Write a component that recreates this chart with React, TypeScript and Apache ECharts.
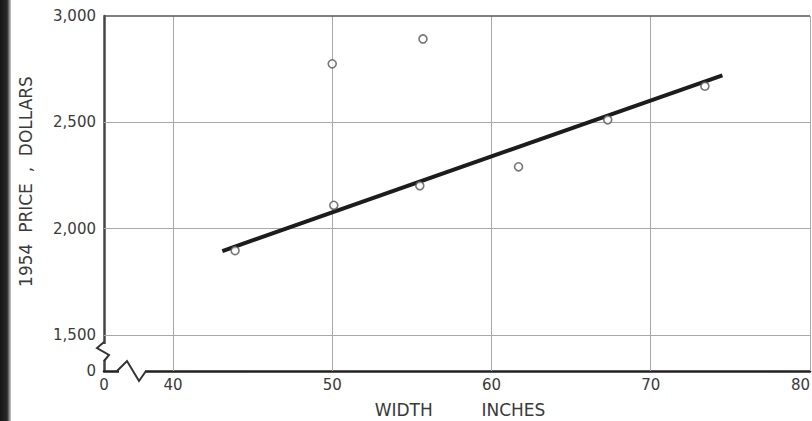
import React, { useEffect, useRef } from "react";
import * as echarts from "echarts";

// Broken-axis origins (shown as "0")
const X_ORIGIN = 35.67;
const Y_ORIGIN = 1331;
const xTickValues = [40, 50, 60, 70, 80];
const yTickValues = [1500, 2000, 2500, 3000];

// Observed cars: width (inches) vs 1954 price (dollars)
const widths = [43.9, 50.1, 50.0, 55.7, 55.5, 61.7, 67.3, 73.4];
const prices = [1897, 2110, 2775, 2892, 2202, 2291, 2512, 2670];

// Fitted line end points
const fitWidths = [43.1, 74.5];
const fitPrices = [1895, 2721];

const FONT = "DejaVu Sans";
const INK = "#3a3a3a";

function fmtPrice(v: number): string {
  if (Math.abs(v - Y_ORIGIN) < 1e-6) return "0";
  const t = Math.floor(v / 1000);
  const r = Math.round(v % 1000);
  return t > 0 ? `${t},${String(r).padStart(3, "0")}` : String(r);
}

export default function App() {
  const ref = useRef<HTMLDivElement>(null);
  useEffect(() => {
    document.body.style.margin = "0";
    if (!ref.current) return;
    const chart = echarts.init(ref.current, null, { renderer: "svg" });
    const labelStyle = { fontFamily: FONT, fontSize: 15, color: INK };
    const option: any = {
      animation: false,
      backgroundColor: "#ffffff",
      grid: { left: 104, right: 2, top: 16, bottom: 50, containLabel: false, outerBoundsMode: "none" },
      xAxis: {
        type: "value",
        min: X_ORIGIN,
        max: 80,
        name: "WIDTH         INCHES",
        nameLocation: "middle",
        nameGap: 30,
        nameTextStyle: { fontFamily: FONT, fontSize: 17, color: INK, padding: [0, 0, 0, 6] },
        axisLine: { show: true, onZero: false, lineStyle: { color: "#222", width: 2.5 } },
        axisTick: { show: false },
        splitLine: { show: false },
        axisLabel: {
          ...labelStyle,
          margin: 6,
          alignMaxLabel: "right",
          customValues: [X_ORIGIN, ...xTickValues],
          formatter: (v: number) => (Math.abs(v - X_ORIGIN) < 1e-6 ? "0" : String(v)),
        },
      },
      yAxis: {
        type: "value",
        min: Y_ORIGIN,
        max: 3000,
        name: "1954  PRICE  ,  DOLLARS",
        nameLocation: "middle",
        nameGap: 70,
        nameTextStyle: { fontFamily: FONT, fontSize: 17, color: INK, padding: [0, 0, 0, 24] },
        axisLine: { show: true, onZero: false, lineStyle: { color: "#444", width: 2.5 } },
        axisTick: { show: false },
        splitLine: { show: false },
        axisLabel: {
          ...labelStyle,
          margin: 8,
          customValues: [Y_ORIGIN, ...yTickValues],
          formatter: fmtPrice,
        },
      },
      series: [
        {
          type: "line",
          data: fitWidths.map((w, i) => [w, fitPrices[i]]),
          symbol: "none",
          lineStyle: { color: "#1c1c1c", width: 4 },
          z: 3,
        },
        {
          type: "scatter",
          data: widths.map((w, i) => [w, prices[i]]),
          symbol: "circle",
          symbolSize: 8,
          itemStyle: { color: "#ffffff", borderColor: "#555", borderWidth: 1.6 },
          z: 4,
          markLine: {
            silent: true,
            symbol: ["none", "none"],
            label: { show: false },
            z: 1,
            lineStyle: { type: "solid", color: "#a8a8a8", width: 1 },
            data: [
              ...xTickValues.map((v) => ({ xAxis: v })),
              ...yTickValues.map((v) => ({
                yAxis: v,
                lineStyle: v === 3000 ? { color: "#555", width: 1.5, type: "solid" } : undefined,
              })),
            ],
          },
        },
      ],
      graphic: [
        {
          type: "rect",
          left: 0,
          top: 0,
          shape: { width: 11, height: 421 },
          style: {
            fill: new echarts.graphic.LinearGradient(0, 0, 1, 0, [
              { offset: 0, color: "#151515" },
              { offset: 0.65, color: "#2a2a2a" },
              { offset: 1, color: "#d0d0d0" },
            ]),
          },
          z: 100,
        },
        // x-axis break
        { type: "rect", shape: { x: 119, y: 368, width: 26, height: 6 }, style: { fill: "#fff" }, z: 100 },
        {
          type: "polyline",
          shape: { points: [[117, 371], [127, 361], [139, 381], [146, 371]] },
          style: { stroke: "#333", lineWidth: 2, fill: null },
          z: 101,
        },
        // y-axis break
        { type: "rect", shape: { x: 101, y: 344, width: 6, height: 16 }, style: { fill: "#fff" }, z: 100 },
        {
          type: "polyline",
          shape: { points: [[104, 342], [97, 348], [109, 355], [104, 361]] },
          style: { stroke: "#333", lineWidth: 2, fill: null },
          z: 101,
        },
      ],
    };
    chart.setOption(option);
    return () => chart.dispose();
  }, []);
  return <div ref={ref} style={{ width: 812, height: 421 }} />;
}
